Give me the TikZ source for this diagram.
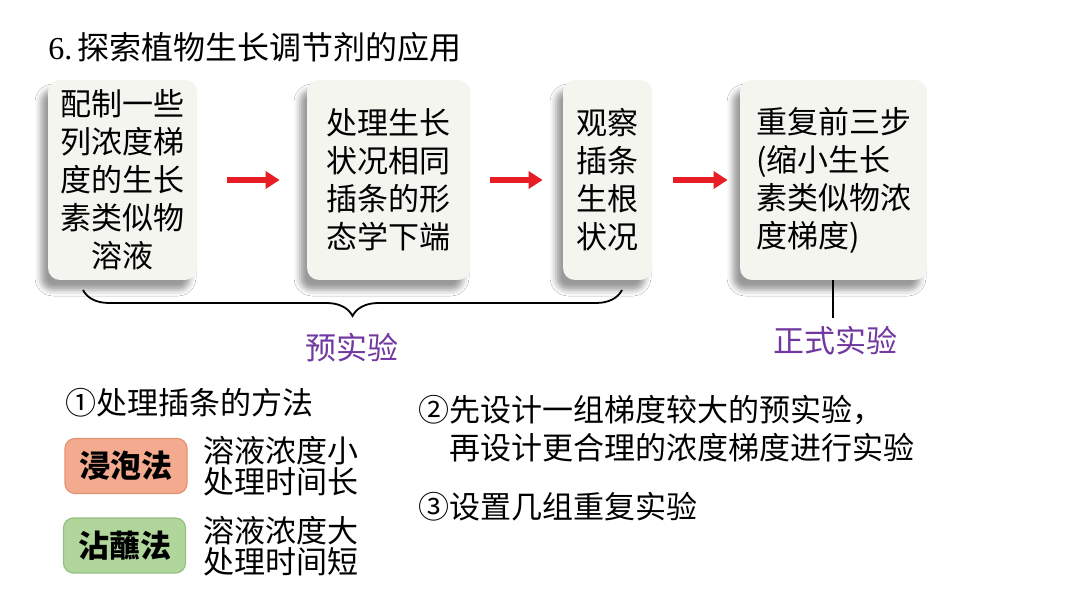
\documentclass[tikz,border=0pt]{standalone}
\usepackage{fontspec}
\setmainfont{Noto Sans CJK SC}
\newfontfamily\serifnum{Liberation Serif}
\usetikzlibrary{arrows.meta,decorations.pathreplacing,shadows.blur,calc}
\definecolor{boxfill}{RGB}{243,245,238}
\definecolor{arrowred}{RGB}{232,28,36}
\definecolor{labpurple}{RGB}{112,56,160}
\definecolor{soakfill}{RGB}{243,170,142}
\definecolor{soakedge}{RGB}{228,146,116}
\definecolor{dipfill}{RGB}{176,214,156}
\definecolor{dipedge}{RGB}{150,192,130}
\tikzset{
  stepbox/.style={fill=boxfill, rounded corners=6pt, minimum height=100pt, inner sep=0pt,
    font=\fontsize{15.5}{19}\selectfont,
    blur shadow={shadow xshift=-3.5pt, shadow yshift=-5pt, shadow blur radius=3pt, shadow opacity=40}},
  flowarrow/.style={draw=arrowred, line width=2.8pt, -{Triangle[length=7pt,width=8.5pt]}},
  methodbox/.style={rounded corners=5pt, minimum width=61pt, minimum height=27.5pt, inner sep=0pt,
    line width=0.6pt, font=\fontsize{15.5}{18}\selectfont\bfseries},
  plaintext/.style={anchor=west, inner sep=0pt, align=left, font=\fontsize{15.5}{15.5}\selectfont},
  purplelabel/.style={text=labpurple, inner sep=0pt, font=\fontsize{15.5}{18}\selectfont},
  bracestyle/.style={draw=black, line width=0.9pt, decorate,
    decoration={brace, mirror, amplitude=13pt}}
}
\begin{document}
\begin{tikzpicture}[x=0.5pt, y=-0.5pt]
\useasboundingbox[fill=white] (0,0) rectangle (1080,608);

% title
\node[plaintext, font=\fontsize{16}{16}\selectfont] (title) at (48,47) {{\serifnum 6.}\,探索植物生长调节剂的应用};

% flow boxes
\node[stepbox, minimum width=74.5pt, align=center] (b1) at (122.5,180)
  {配制一些\\列浓度梯\\度的生长\\素类似物\\溶液};
\node[stepbox, minimum width=81.5pt, align=center] (b2) at (388.5,180)
  {处理生长\\状况相同\\插条的形\\态学下端};
\node[stepbox, minimum width=44.5pt, align=center] (b3) at (607.5,180)
  {观察\\插条\\生根\\状况};
\node[stepbox, minimum width=93.5pt, align=left] (b4) at (833.5,180)
  {重复前三步\\(缩小生长\\素类似物浓\\度梯度)};

% arrows
\draw[flowarrow, shorten <=15pt, shorten >=13.5pt] (b1.east) -- (b2.west);
\draw[flowarrow, shorten <=10pt, shorten >=10pt] (b2.east) -- (b3.west);
\draw[flowarrow, shorten <=10.5pt, shorten >=6pt] (b3.east) -- (b4.west);

% brace and labels
\coordinate (braceL) at (83,290);
\coordinate (braceR) at (622,290);
\draw[bracestyle] (braceL) -- (braceR);
\node[purplelabel] (pre) at (352,348) {预实验};
\coordinate (formalEnd) at (833,318);
\draw[line width=0.9pt] (b4.south -| formalEnd) -- (formalEnd);
\node[purplelabel] (formal) at (835,341) {正式实验};

% bottom left
\node[plaintext] (m1) at (65,403) {①处理插条的方法};
\node[methodbox, fill=soakfill, draw=soakedge] (soak) at (126,466) {浸泡法};
\node[methodbox, fill=dipfill, draw=dipedge] (dip) at (124.5,545.5) {沾蘸法};
\node[plaintext] (soaktxt) at (203,466.5) {溶液浓度小\\处理时间长};
\node[plaintext] (diptxt) at (203,546) {溶液浓度大\\处理时间短};

% bottom right
\node[plaintext, font=\fontsize{15.5}{19}\selectfont] (m2) at (418,429)
  {②先设计一组梯度较大的预实验，\\\hspace*{1em}再设计更合理的浓度梯度进行实验};
\node[plaintext] (m3) at (418,507) {③设置几组重复实验};
\end{tikzpicture}
\end{document}
